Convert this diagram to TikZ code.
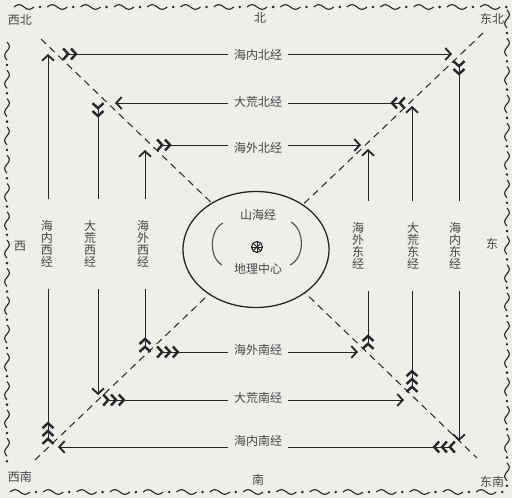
\documentclass[tikz,border=0pt]{standalone}
\usepackage{fontspec}
\newfontfamily\cjk{Noto Sans CJK SC}
\usetikzlibrary{arrows.meta}
\definecolor{paper}{RGB}{237,239,234}
\definecolor{ink}{RGB}{38,38,38}
\definecolor{txt}{RGB}{70,70,70}
\tikzset{
  ln/.style={draw=ink,line width=0.9pt},
  a2/.style={ln,arrows={Straight Barb[reversed,length=5pt,width=11pt,line width=2.4pt,sep=0pt] Straight Barb[reversed,length=5pt,width=11pt,line width=2.4pt]-Straight Barb[length=5.5pt,width=12pt,line width=1.8pt]}},
  a3/.style={ln,arrows={Straight Barb[reversed,length=5pt,width=11pt,line width=2.4pt,sep=0pt] Straight Barb[reversed,length=5pt,width=11pt,line width=2.4pt,sep=0pt] Straight Barb[reversed,length=5pt,width=11pt,line width=2.4pt]-Straight Barb[length=5.5pt,width=12pt,line width=1.8pt]}},
  diag/.style={draw=ink,line width=1pt,dash pattern=on 7pt off 5pt},
  hlab/.style={fill=paper,inner xsep=6pt,inner ysep=3pt,text=txt,font=\cjk\fontsize{12}{12}\selectfont},
  vlab/.style={fill=paper,inner xsep=5pt,inner ysep=22pt,text=txt,align=center,font=\cjk\fontsize{12}{12}\selectfont},
  dlab/.style={text=txt,inner sep=0pt,font=\cjk\fontsize{12}{12}\selectfont},
  wave/.pic={\draw[ink,line width=1.1pt] (0,0) sin (5,-2.4) cos (10,0) sin (15,2.4) cos (20,0);
             \fill[ink] (26,0) circle[radius=1.4pt];},
  vwave/.pic={\draw[ink,line width=1.1pt] (0,0) sin (4.5,-2.4) cos (9,0) sin (13.5,2.4) cos (18,0);
             \fill[ink] (23,0) circle[radius=1.4pt];}
}
\begin{document}
\begin{tikzpicture}[x=1pt,y=-1pt]
\useasboundingbox (0,0) rectangle (512,498);
\fill[paper] (0,0) rectangle (512,498);
% border
\foreach \k in {0,...,14} \pic at ({14+33.3*\k},7) {wave};
\foreach \k in {0,...,14} \pic at ({10+33.3*\k},492) {wave};
\foreach \k in {0,...,14} \pic[rotate=-90] at (7,{42+28.3*\k}) {vwave};
\foreach \k in {0,...,16} \pic[rotate=-90] at (507,{10+28.3*\k}) {vwave};
% direction labels
\node[dlab] (nw) at (20,20) {西北};
\node[dlab] (ne) at (492,19) {东北};
\node[dlab] (sw) at (20,477) {西南};
\node[dlab] (se) at (492,482) {东南};
\node[dlab] (n) at (260,18) {北};
\node[dlab] (s) at (258,480) {南};
\node[dlab] (w) at (20,246) {西};
\node[dlab] (e) at (492,244) {东};
% diagonals
\coordinate (d1a) at (41,39); \coordinate (d1b) at (477,458);
\coordinate (d2a) at (483,33); \coordinate (d2b) at (35,460);
\draw[diag] (d1a) -- (d1b);
\draw[diag] (d2a) -- (d2b);
% centre
\coordinate (c) at (256,249.5);
\draw[draw=ink,fill=paper,line width=1.3pt] (c) ellipse [x radius=73pt,y radius=58pt];
\draw[draw=ink!80,line width=1.1pt] (223,223) .. controls (209,230) and (209,258) .. (222,265);
\draw[draw=ink!80,line width=1.1pt] (291,222) .. controls (305,230) and (305,258) .. (290,265);
\coordinate (wh) at (257,247);
\draw[ink,line width=1.1pt] (wh) circle[radius=5.5pt];
\foreach \a in {0,45,90,135} \draw[ink,line width=0.8pt] (wh) ++(\a:5.5pt) -- ++(\a+180:11pt);
\node[dlab] (shj) at (258,215) {山海经};
\node[dlab] (dl) at (258,269) {地理中心};
% outer square (海内)
\coordinate (oT1) at (62,54);  \coordinate (oT2) at (452,54);
\coordinate (oR1) at (459,60); \coordinate (oR2) at (459,441);
\coordinate (oB1) at (456,447); \coordinate (oB2) at (58,447);
\coordinate (oL1) at (48,445); \coordinate (oL2) at (48,54);
\draw[a2] (oT1) -- (oT2);
\draw[a2] (oR1) -- (oR2);
\draw[a3] (oB1) -- (oB2);
\draw[a3] (oL1) -- (oL2);
% middle square (大荒)
\coordinate (mT1) at (406,103); \coordinate (mT2) at (115,103);
\coordinate (mL1) at (98,102);  \coordinate (mL2) at (98,395);
\coordinate (mB1) at (102,400); \coordinate (mB2) at (404,400);
\coordinate (mR1) at (412,393); \coordinate (mR2) at (412,106);
\draw[a2] (mT1) -- (mT2);
\draw[a2] (mL1) -- (mL2);
\draw[a3] (mB1) -- (mB2);
\draw[a3] (mR1) -- (mR2);
% inner square (海外)
\coordinate (iT1) at (156,145); \coordinate (iT2) at (361,145);
\coordinate (iR1) at (368,350); \coordinate (iR2) at (368,149);
\coordinate (iB1) at (156,352); \coordinate (iB2) at (358,352);
\coordinate (iL1) at (145,353); \coordinate (iL2) at (145,150);
\draw[a2] (iT1) -- (iT2);
\draw[a2] (iR1) -- (iR2);
\draw[a3] (iB1) -- (iB2);
\draw[a2] (iL1) -- (iL2);
% labels
\node[hlab] (l1) at (258,55) {海内北经};
\node[hlab] (l2) at (258,102) {大荒北经};
\node[hlab] (l3) at (258,148) {海外北经};
\node[hlab] (l4) at (258,350) {海外南经};
\node[hlab] (l5) at (258,398) {大荒南经};
\node[hlab] (l6) at (258,441) {海内南经};
\node[vlab] (v1) at (47,244) {海\\内\\西\\经};
\node[vlab] (v2) at (90,244) {大\\荒\\西\\经};
\node[vlab] (v3) at (143,244) {海\\外\\西\\经};
\node[vlab] (v4) at (358,246) {海\\外\\东\\经};
\node[vlab] (v5) at (413,246) {大\\荒\\东\\经};
\node[vlab] (v6) at (455,246) {海\\内\\东\\经};
\end{tikzpicture}
\end{document}
